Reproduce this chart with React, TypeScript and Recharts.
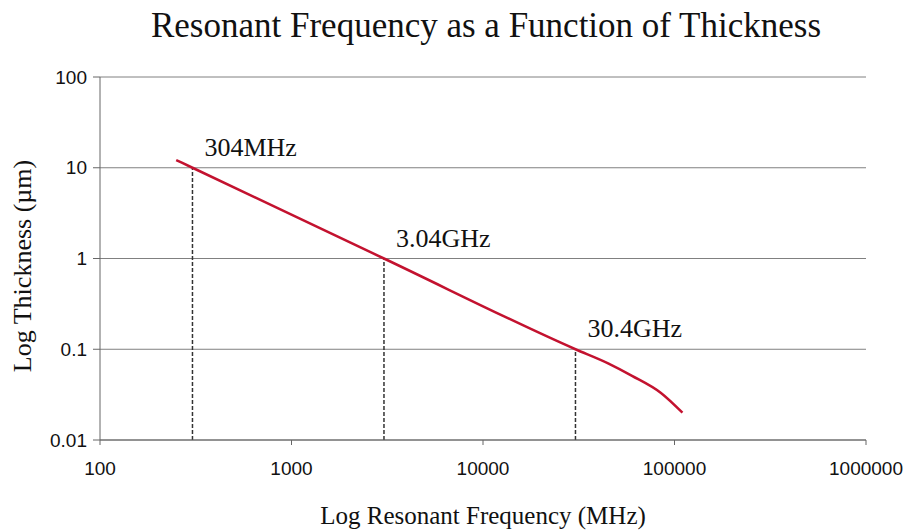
import React from 'react';
import {
  LineChart,
  Line,
  XAxis,
  YAxis,
  CartesianGrid,
  ReferenceLine,
  ReferenceDot,
} from 'recharts';

// resonant frequency (MHz) vs film thickness (µm)
const frequencies = [250, 304, 3040, 30400, 45000, 60000, 85000, 110000];
const thicknesses = [12.16, 10, 1, 0.1, 0.07, 0.051, 0.033, 0.02];

const markerFreqs = [304, 3040, 30400];
const markerThick = [10, 1, 0.1];
const markerLabels = ['304MHz', '3.04GHz', '30.4GHz'];

const xTicks = [100, 1000, 10000, 100000, 1000000];
const yTicks = [0.01, 0.1, 1, 10, 100];

const data = frequencies.map((f, i) => ({ freq: f, thickness: thicknesses[i] }));

const serif = 'Liberation Serif';
const sans = 'Liberation Sans';

export default function App() {
  return (
    <div style={{ position: 'absolute', left: 0, top: 0, width: 904, height: 531, background: '#fff' }}>
      <LineChart
        width={904}
        height={531}
        data={data}
        margin={{ top: 77, right: 38, bottom: 0, left: 0 }}
      >
        <CartesianGrid vertical={false} stroke="#808080" strokeWidth={1} />
        <XAxis
          dataKey="freq"
          type="number"
          scale="log"
          domain={[100, 1000000]}
          ticks={xTicks}
          interval={0}
          allowDataOverflow
          height={91}
          stroke="#666"
          tickSize={5}
          tickMargin={17}
          tick={{ fill: '#111', fontSize: 19, fontFamily: sans }}
        />
        <YAxis
          type="number"
          scale="log"
          domain={[0.01, 100]}
          ticks={yTicks}
          interval={0}
          allowDataOverflow
          width={100}
          stroke="#666"
          tickSize={7}
          tickMargin={6}
          tick={{ fill: '#111', fontSize: 19, fontFamily: sans }}
        />
        {markerFreqs.map((f, i) => (
          <ReferenceLine
            key={`seg-${i}`}
            segment={[
              { x: f, y: 0.01 },
              { x: f, y: markerThick[i] },
            ]}
            stroke="#333"
            strokeWidth={1.5}
            strokeDasharray="4 2"
          />
        ))}
        <Line
          dataKey="thickness"
          type="monotone"
          stroke="#c3122f"
          strokeWidth={2.5}
          dot={false}
          isAnimationActive={false}
        />
        {markerFreqs.map((f, i) => (
          <ReferenceDot
            key={`lbl-${i}`}
            x={f}
            y={markerThick[i]}
            r={0}
            shape={(p: any) => (
              <text x={p.cx + 12} y={p.cy - 12} fontSize={26} fontFamily={serif} fill="#111">
                {markerLabels[i]}
              </text>
            )}
          />
        ))}
      </LineChart>
      <svg
        width={904}
        height={531}
        style={{ position: 'absolute', left: 0, top: 0, pointerEvents: 'none' }}
      >
        <text x={486} y={37} textAnchor="middle" fontSize={35} fontFamily={serif} fill="#111">
          Resonant Frequency as a Function of Thickness
        </text>
        <text x={483} y={524} textAnchor="middle" fontSize={25} fontFamily={serif} fill="#111">
          Log Resonant Frequency (MHz)
        </text>
        <text
          x={0}
          y={0}
          transform="translate(31 266) rotate(-90)"
          textAnchor="middle"
          fontSize={26}
          fontFamily={serif}
          fill="#111"
        >
          Log Thickness (µm)
        </text>
      </svg>
    </div>
  );
}
